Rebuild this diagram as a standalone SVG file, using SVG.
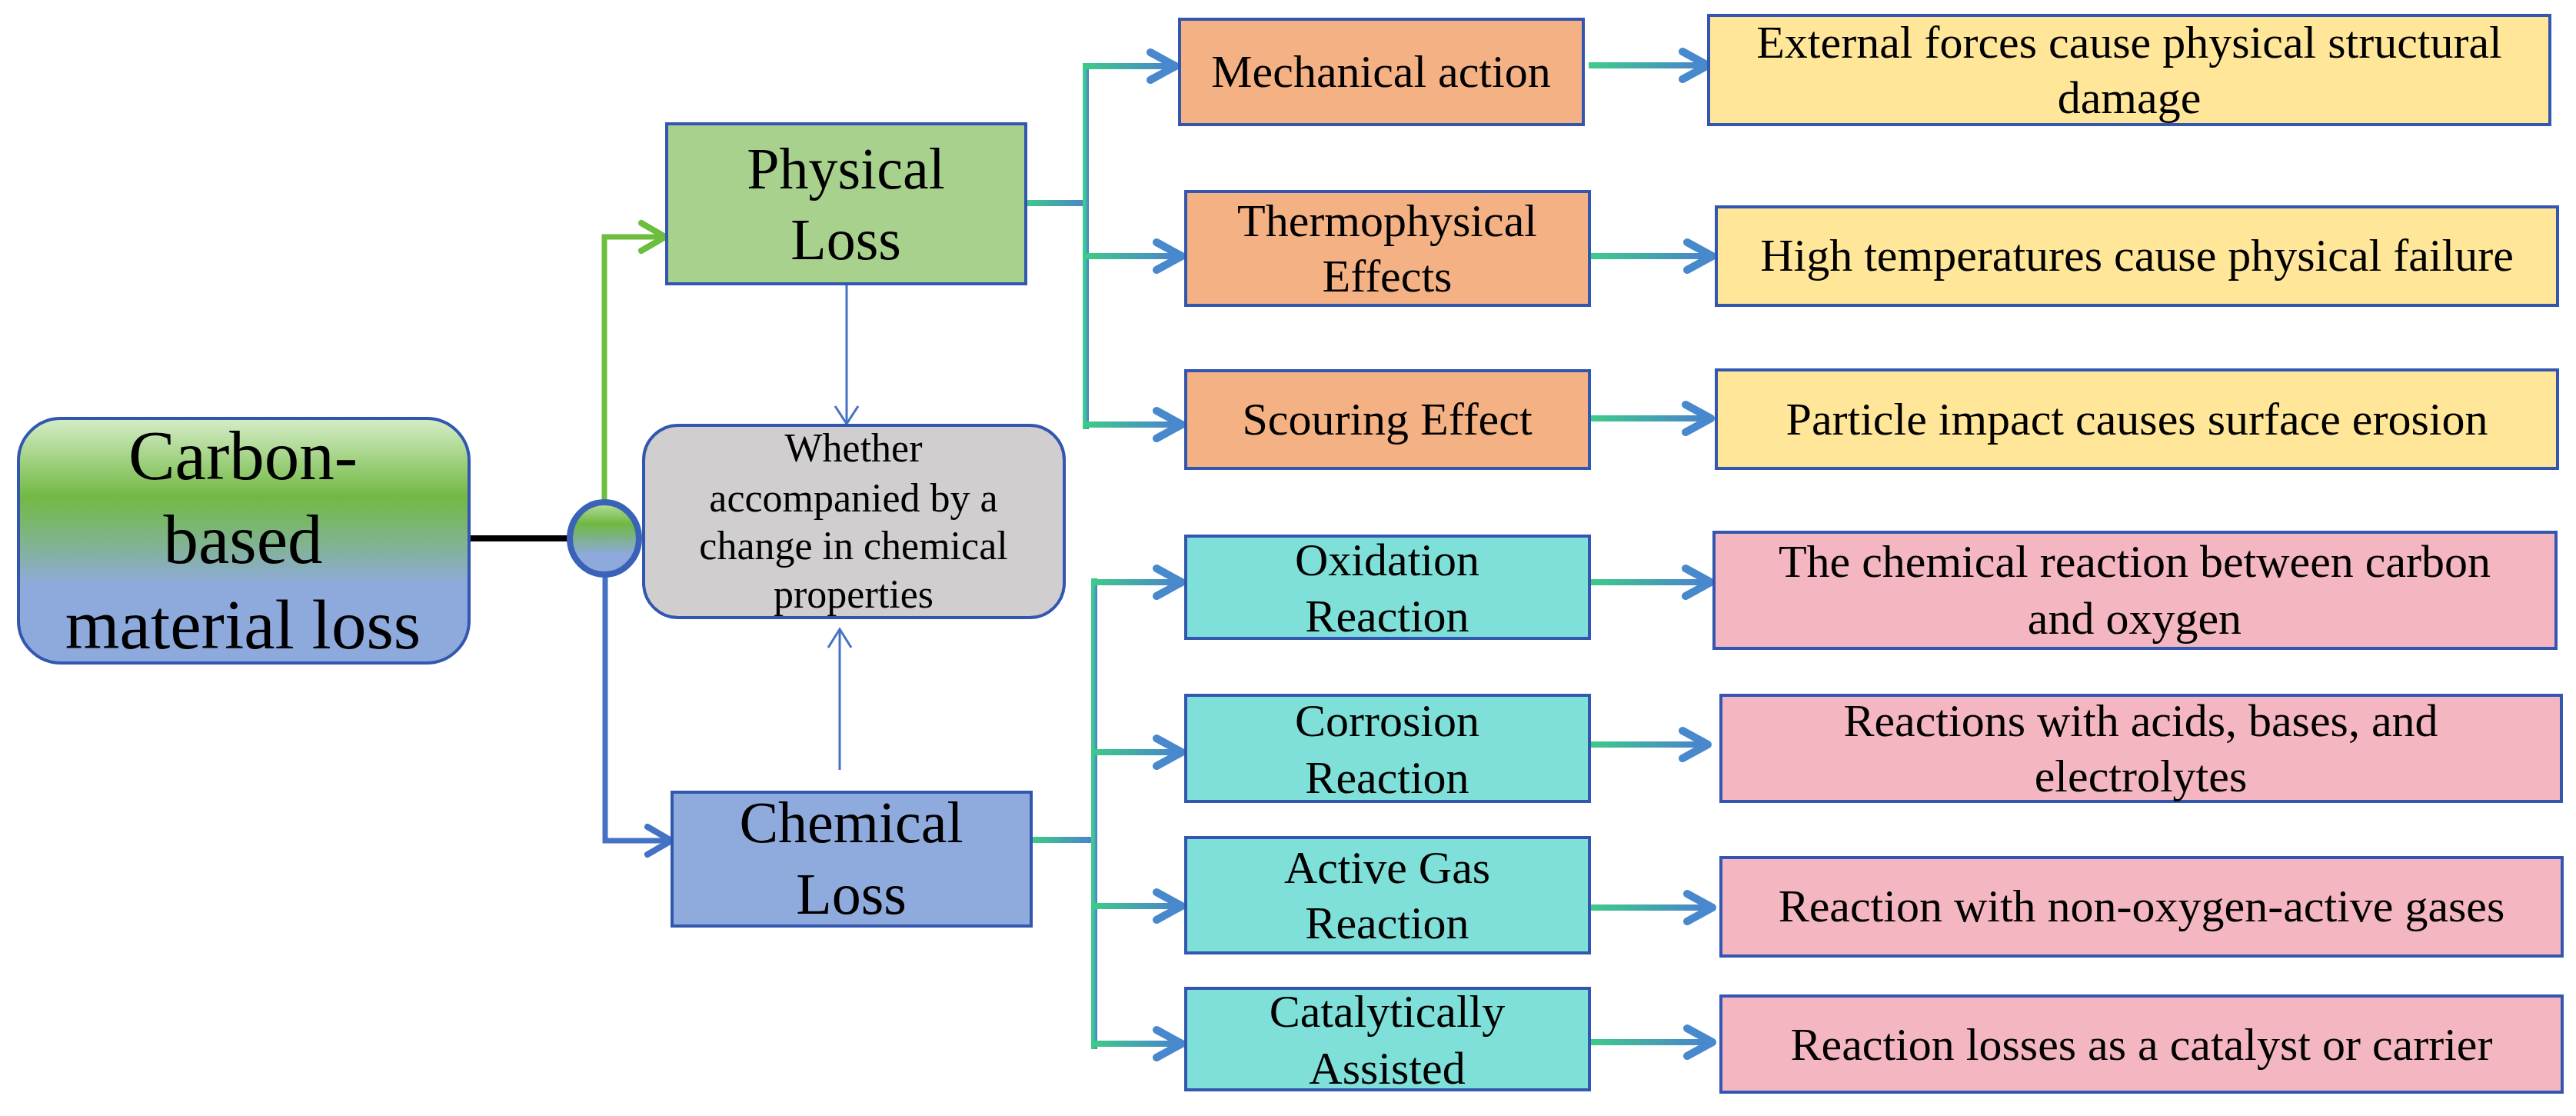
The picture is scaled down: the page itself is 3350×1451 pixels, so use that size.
<svg xmlns="http://www.w3.org/2000/svg" width="3350" height="1451" viewBox="0 0 3350 1451">
<defs>
<linearGradient id="gMain" x1="0" y1="0" x2="0" y2="1">
<stop offset="0" stop-color="#d6edc8"/>
<stop offset="0.32" stop-color="#72b944"/>
<stop offset="0.5" stop-color="#80b48a"/>
<stop offset="0.68" stop-color="#8eaadc"/>
<stop offset="1" stop-color="#8eaadc"/>
</linearGradient>
<linearGradient id="gCirc" x1="0" y1="0" x2="0" y2="1">
<stop offset="0" stop-color="#b8e0a0"/>
<stop offset="0.3" stop-color="#70b840"/>
<stop offset="0.72" stop-color="#8eaadc"/>
<stop offset="1" stop-color="#8eaadc"/>
</linearGradient>
<linearGradient id="gH" x1="0" y1="0" x2="1" y2="0">
<stop offset="0" stop-color="#3dcc87"/>
<stop offset="1" stop-color="#4a82cf"/>
</linearGradient>
<linearGradient id="gSpine" x1="0" y1="0" x2="1" y2="0">
<stop offset="0" stop-color="#40cf8a"/>
<stop offset="0.45" stop-color="#40c09e"/>
<stop offset="1" stop-color="#4a78d0"/>
</linearGradient>
<style>
.box{stroke:#3357b0;stroke-width:4}
.t{font-family:"Liberation Serif","Times New Roman",serif;fill:#000;text-anchor:middle}
.t60{font-size:60px}
.t75{font-size:76px}
.t52{font-size:52px}
.t91{font-size:91px}
.head{fill:none;stroke:#4888cc;stroke-width:10;stroke-linecap:round;stroke-linejoin:round}
.thin{fill:none;stroke:#4472c4;stroke-width:3}
</style>
</defs>
<rect width="3350" height="1451" fill="#ffffff"/>

<g id="connectors">
<!-- root to junction -->
<line x1="610" y1="700" x2="742" y2="700" stroke="#000" stroke-width="8"/>
<!-- green to Physical Loss -->
<path d="M786,654 V308 H862" fill="none" stroke="#6dbd3e" stroke-width="7"/>
<path d="M834,290 L865,308 L834,326" fill="none" stroke="#6dbd3e" stroke-width="8" stroke-linecap="round" stroke-linejoin="round"/>
<!-- blue to Chemical Loss -->
<path d="M787,746 V1093 H870" fill="none" stroke="#4472c4" stroke-width="7"/>
<path d="M842,1075 L873,1093 L842,1111" fill="none" stroke="#4472c4" stroke-width="8" stroke-linecap="round" stroke-linejoin="round"/>
<!-- thin arrows to gray box -->
<path d="M1101,370 V551" class="thin"/>
<path d="M1086,528 L1101,551 L1116,528" class="thin"/>
<path d="M1092,1001 V819" class="thin"/>
<path d="M1077,842 L1092,818 L1107,842" class="thin"/>

<!-- physical branch -->
<rect x="1334" y="260" width="78" height="8" fill="url(#gH)"/>
<rect x="1408" y="82" width="8" height="476" fill="url(#gSpine)"/>
<rect x="1408" y="82" width="118" height="8" fill="url(#gH)"/>
<path class="head" d="M1496,68 L1529,86 L1496,104"/>
<rect x="1408" y="329" width="126" height="8" fill="url(#gH)"/>
<path class="head" d="M1504,315 L1537,333 L1504,351"/>
<rect x="1408" y="548" width="126" height="8" fill="url(#gH)"/>
<path class="head" d="M1504,534 L1537,552 L1504,570"/>

<!-- chemical branch -->
<rect x="1341" y="1088" width="82" height="8" fill="url(#gH)"/>
<rect x="1419" y="752" width="8" height="612" fill="url(#gSpine)"/>
<rect x="1419" y="753" width="115" height="8" fill="url(#gH)"/>
<path class="head" d="M1504,739 L1537,757 L1504,775"/>
<rect x="1419" y="974" width="115" height="8" fill="url(#gH)"/>
<path class="head" d="M1504,960 L1537,978 L1504,996"/>
<rect x="1419" y="1174" width="115" height="8" fill="url(#gH)"/>
<path class="head" d="M1504,1160 L1537,1178 L1504,1196"/>
<rect x="1419" y="1353" width="115" height="8" fill="url(#gH)"/>
<path class="head" d="M1504,1339 L1537,1357 L1504,1375"/>

<!-- second stage arrows -->
<rect x="2066" y="81" width="150" height="8" fill="url(#gH)"/>
<path class="head" d="M2188,67 L2221,85 L2188,103"/>
<rect x="2069" y="329" width="152" height="8" fill="url(#gH)"/>
<path class="head" d="M2194,315 L2227,333 L2194,351"/>
<rect x="2067" y="540" width="152" height="8" fill="url(#gH)"/>
<path class="head" d="M2192,526 L2225,544 L2192,562"/>
<rect x="2067" y="753" width="152" height="8" fill="url(#gH)"/>
<path class="head" d="M2192,739 L2225,757 L2192,775"/>
<rect x="2063" y="964" width="152" height="8" fill="url(#gH)"/>
<path class="head" d="M2188,950 L2221,968 L2188,986"/>
<rect x="2067" y="1176" width="154" height="8" fill="url(#gH)"/>
<path class="head" d="M2194,1162 L2227,1180 L2194,1198"/>
<rect x="2067" y="1351" width="154" height="8" fill="url(#gH)"/>
<path class="head" d="M2194,1337 L2227,1355 L2194,1373"/>
</g>

<g id="root">
<rect class="box" x="24" y="544" width="586" height="318" rx="55" ry="55" fill="url(#gMain)"/>
<text class="t t91" x="316" y="623">Carbon-</text>
<text class="t t91" x="316" y="732">based</text>
<text class="t t91" x="316" y="843">material loss</text>
</g>

<g id="junction">
<ellipse cx="786" cy="700" rx="45" ry="47" fill="url(#gCirc)" stroke="#3a62b8" stroke-width="8"/>
</g>

<g id="physical">
<rect class="box" x="867" y="161" width="467" height="208" fill="#a9d18e"/>
<text class="t t75" x="1100" y="245">Physical</text>
<text class="t t75" x="1100" y="337">Loss</text>
</g>

<g id="chemical">
<rect class="box" x="874" y="1030" width="467" height="174" fill="#8faadc"/>
<text class="t t75" x="1107" y="1095">Chemical</text>
<text class="t t75" x="1107" y="1188">Loss</text>
</g>

<g id="question">
<rect class="box" x="837" y="553" width="547" height="250" rx="45" ry="45" fill="#d0cece" stroke-width="3"/>
<text class="t t52" x="1110" y="600">Whether</text>
<text class="t t52" x="1110" y="665">accompanied by a</text>
<text class="t t52" x="1110" y="727">change in chemical</text>
<text class="t t52" x="1110" y="790">properties</text>
</g>

<g id="mechanical">
<rect class="box" x="1534" y="25" width="525" height="137" fill="#f4b183"/>
<text class="t t60" x="1796" y="113">Mechanical action</text>
</g>
<g id="thermo">
<rect class="box" x="1542" y="249" width="525" height="148" fill="#f4b183"/>
<text class="t t60" x="1804" y="307">Thermophysical</text>
<text class="t t60" x="1804" y="379">Effects</text>
</g>
<g id="scouring">
<rect class="box" x="1542" y="482" width="525" height="127" fill="#f4b183"/>
<text class="t t60" x="1804" y="565">Scouring Effect</text>
</g>

<g id="oxidation">
<rect class="box" x="1542" y="697" width="525" height="133" fill="#7fe0d9"/>
<text class="t t60" x="1804" y="748">Oxidation</text>
<text class="t t60" x="1804" y="821">Reaction</text>
</g>
<g id="corrosion">
<rect class="box" x="1542" y="904" width="525" height="138" fill="#7fe0d9"/>
<text class="t t60" x="1804" y="957">Corrosion</text>
<text class="t t60" x="1804" y="1031">Reaction</text>
</g>
<g id="activegas">
<rect class="box" x="1542" y="1089" width="525" height="150" fill="#7fe0d9"/>
<text class="t t60" x="1804" y="1148">Active Gas</text>
<text class="t t60" x="1804" y="1220">Reaction</text>
</g>
<g id="catalytic">
<rect class="box" x="1542" y="1285" width="525" height="132" fill="#7fe0d9"/>
<text class="t t60" x="1804" y="1335">Catalytically</text>
<text class="t t60" x="1804" y="1409">Assisted</text>
</g>

<g id="desc-mechanical">
<rect class="box" x="2222" y="20" width="1094" height="142" fill="#ffe699"/>
<text class="t t60" x="2769" y="75">External forces cause physical structural</text>
<text class="t t60" x="2769" y="147">damage</text>
</g>
<g id="desc-thermo">
<rect class="box" x="2232" y="269" width="1094" height="128" fill="#ffe699"/>
<text class="t t60" x="2779" y="352">High temperatures cause physical failure</text>
</g>
<g id="desc-scouring">
<rect class="box" x="2232" y="481" width="1094" height="128" fill="#ffe699"/>
<text class="t t60" x="2779" y="565">Particle impact causes surface erosion</text>
</g>

<g id="desc-oxidation">
<rect class="box" x="2229" y="692" width="1095" height="151" fill="#f4b6c0"/>
<text class="t t60" x="2776" y="750">The chemical reaction between carbon</text>
<text class="t t60" x="2776" y="824">and oxygen</text>
</g>
<g id="desc-corrosion">
<rect class="box" x="2238" y="904" width="1093" height="138" fill="#f4b6c0"/>
<text class="t t60" x="2784" y="957">Reactions with acids, bases, and</text>
<text class="t t60" x="2784" y="1029">electrolytes</text>
</g>
<g id="desc-activegas">
<rect class="box" x="2238" y="1115" width="1094" height="128" fill="#f4b6c0"/>
<text class="t t60" x="2785" y="1198">Reaction with non-oxygen-active gases</text>
</g>
<g id="desc-catalytic">
<rect class="box" x="2238" y="1295" width="1094" height="125" fill="#f4b6c0"/>
<text class="t t60" x="2785" y="1378">Reaction losses as a catalyst or carrier</text>
</g>
</svg>
